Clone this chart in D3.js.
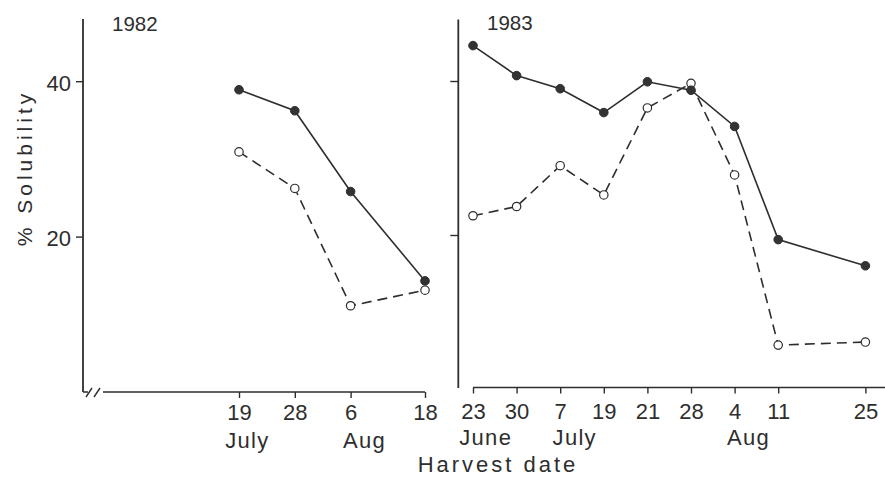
<!DOCTYPE html>
<html>
<head>
<meta charset="utf-8">
<script src="https://cdn.jsdelivr.net/npm/d3@7"></script>
<style>
  html, body { margin: 0; padding: 0; background: #fff; }
  svg { display: block; }
  text { font-family: "Liberation Sans", Arial, sans-serif; fill: #2e2e2e; }
</style>
</head>
<body>
<svg id="chart" width="885" height="479"></svg>
<script>
// ---- Data ----
const year82 = "1982";
const dates82 = ["1982-07-19", "1982-07-28", "1982-08-06", "1982-08-18"];
const dayLabels82 = ["19", "28", "6", "18"];
const monthLabels82 = ["July", "", "Aug", ""];
const filled82 = [38.9, 36.2, 25.8, 14.3];
const open82 = [30.9, 26.2, 11.1, 13.1];

const year83 = "1983";
const harvestWeek83 = [0, 1, 2, 3, 4, 5, 6, 7, 9];
const dayLabels83 = ["23", "30", "7", "19", "21", "28", "4", "11", "25"];
const monthLabels83 = ["June", "", "July", "", "", "", "Aug", "", ""];
const filled83 = [44.6, 40.7, 39.0, 35.9, 39.9, 38.8, 34.1, 19.4, 16.0];
const open83 = [22.5, 23.7, 29.0, 25.2, 36.5, 39.7, 27.8, 5.7, 6.1];

const yTicks = [20, 40];
const yLabel = "% Solubility";
const xLabel = "Harvest date";

// ---- Drawing ----
const ink = "#2e2e2e";
const svg = d3.select("#chart");
const parse = d3.timeParse("%Y-%m-%d");

// Scales
const yL = d3.scaleLinear().domain([0, 48]).range([392, 392 - 48 * 7.77]);
const yR = d3.scaleLinear().domain([0, 48]).range([389, 389 - 48 * 7.7]);
const xL = d3.scaleTime().domain([parse(dates82[0]), parse(dates82[3])]).range([239, 425]);
const xR = d3.scaleLinear().domain([0, 9]).range([473, 865.4]);

const axL = 83, axR = 458.3;

function styleAxis(g) {
  g.selectAll("path.domain").remove();
  g.selectAll("line").attr("stroke", ink).attr("stroke-width", 1.4);
}

// ---- Left panel ----
const gL = svg.append("g");
const yAxisL = gL.append("g").attr("transform", `translate(${axL},0)`)
  .call(d3.axisLeft(yL).tickValues(yTicks).tickSize(7).tickSizeOuter(0).tickPadding(5));
styleAxis(yAxisL);
yAxisL.selectAll("text").attr("font-size", 22).attr("dy", "0.42em").style("fill", ink);
gL.append("line").attr("x1", axL).attr("x2", axL).attr("y1", yL(48)).attr("y2", yL(0))
  .attr("stroke", ink).attr("stroke-width", 1.8);
const baseL = yL(0);
gL.append("path")
  .attr("d", `M${axL},${baseL}H${axL + 5}M${axL + 20},${baseL}H${xL(parse(dates82[3]))}`)
  .attr("stroke", ink).attr("stroke-width", 1.6).attr("fill", "none");
gL.append("path")
  .attr("d", `M${axL + 3},${baseL + 5}L${axL + 9},${baseL - 4}M${axL + 11},${baseL + 5}L${axL + 17},${baseL - 4}`)
  .attr("stroke", ink).attr("stroke-width", 1.4).attr("fill", "none");
const xAxisL = gL.append("g").attr("transform", `translate(0,${baseL})`)
  .call(d3.axisBottom(xL).tickValues(dates82.map(parse)).tickSize(6).tickSizeOuter(0)
    .tickFormat((d, i) => dayLabels82[i]));
styleAxis(xAxisL);
xAxisL.selectAll("text").attr("font-size", 22).attr("y", 28).attr("dy", 0).style("fill", ink);
xAxisL.selectAll(".tick").each(function (d, i) {
  if (!monthLabels82[i]) return;
  const bb = d3.select(this).select("text").node().getBBox();
  d3.select(this).append("text").attr("x", bb.x - 2).attr("y", 56)
    .attr("text-anchor", "start").attr("font-size", 22).attr("letter-spacing", "1.3px")
    .style("fill", ink).text(monthLabels82[i]);
});
gL.append("text").attr("x", 112).attr("y", 31).attr("font-size", 20.5).text(year82);

// ---- Right panel ----
const gR = svg.append("g");
const yAxisR = gR.append("g").attr("transform", `translate(${axR},0)`)
  .call(d3.axisLeft(yR).tickValues(yTicks).tickSize(8).tickSizeOuter(0).tickFormat(""));
styleAxis(yAxisR);
gR.append("line").attr("x1", axR).attr("x2", axR).attr("y1", yR(48)).attr("y2", yR(0) - 1)
  .attr("stroke", ink).attr("stroke-width", 1.8);
const baseR = yR(0) - 1.5;
gR.append("line").attr("x1", xR(0)).attr("x2", 885).attr("y1", baseR).attr("y2", baseR)
  .attr("stroke", ink).attr("stroke-width", 1.6);
const xAxisR = gR.append("g").attr("transform", `translate(0,${baseR})`)
  .call(d3.axisBottom(xR).tickValues(harvestWeek83).tickSize(6).tickSizeOuter(0)
    .tickFormat((d, i) => dayLabels83[i]));
styleAxis(xAxisR);
xAxisR.selectAll("text").attr("font-size", 22).attr("y", 31).attr("dy", 0).style("fill", ink);
xAxisR.selectAll(".tick").each(function (d, i) {
  if (!monthLabels83[i]) return;
  const bb = d3.select(this).select("text").node().getBBox();
  d3.select(this).append("text").attr("x", bb.x - 2).attr("y", 57.5)
    .attr("text-anchor", "start").attr("font-size", 22).attr("letter-spacing", "1.3px")
    .style("fill", ink).text(monthLabels83[i]);
});
gR.append("text").attr("x", 487).attr("y", 30).attr("font-size", 20.5).text(year83);

// ---- Series ----
function drawSeries(g, xs, vals, x, y, dashed, filled) {
  const pts = vals.map((v, i) => [x(xs[i]), y(v)]);
  g.append("path").datum(pts)
    .attr("d", d3.line())
    .attr("fill", "none").attr("stroke", ink).attr("stroke-width", 1.6)
    .attr("stroke-dasharray", dashed ? "10,6" : null);
  g.selectAll(null).data(pts).join("circle")
    .attr("cx", d => d[0]).attr("cy", d => d[1])
    .attr("r", filled ? 4.3 : 4.2)
    .attr("fill", filled ? "#333" : "#fff")
    .attr("stroke", ink).attr("stroke-width", filled ? 1 : 1.2);
}
const d82 = dates82.map(parse);
drawSeries(gL, d82, open82, xL, yL, true, false);
drawSeries(gL, d82, filled82, xL, yL, false, true);
drawSeries(gR, harvestWeek83, open83, xR, yR, true, false);
drawSeries(gR, harvestWeek83, filled83, xR, yR, false, true);

// ---- Axis titles ----
svg.append("text").attr("transform", "translate(32,168) rotate(-90)")
  .attr("text-anchor", "middle").attr("font-size", 21).attr("letter-spacing", "4px")
  .text(yLabel);
svg.append("text").attr("x", 498).attr("y", 472).attr("text-anchor", "middle")
  .attr("font-size", 22).attr("letter-spacing", "3px").text(xLabel);
</script>
</body>
</html>
